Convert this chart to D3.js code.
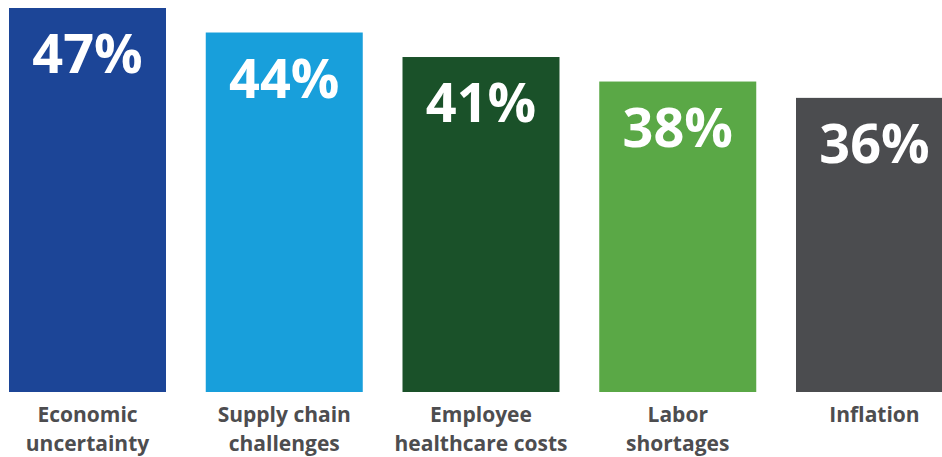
<!DOCTYPE html>
<html>
<head>
<meta charset="utf-8">
<script src="https://cdn.jsdelivr.net/npm/d3@7"></script>
<style>
html,body{margin:0;padding:0;background:#fff;overflow:hidden;}
svg{display:block;}
</style>
</head>
<body>
<svg id="chart" width="942" height="457"></svg>
<script>
const categories = ["Economic uncertainty", "Supply chain challenges", "Employee healthcare costs", "Labor shortages", "Inflation"];
const labelLines = [["Economic", "uncertainty"], ["Supply chain", "challenges"], ["Employee", "healthcare costs"], ["Labor", "shortages"], ["Inflation"]];
const values = [47, 44, 41, 38, 36];
const colors = ["#1c4597", "#189fdb", "#1a5129", "#5aa846", "#4b4c4f"];

const svg = d3.select("#chart");
const step = 196.75, bw = 157;
const xs = d3.scaleBand().domain(categories).range([9, 9 + step * 4 + bw]).paddingInner((step - bw) / step).paddingOuter(0);
const y = d3.scaleLinear().domain([0, 47]).range([392, 8]);

svg.selectAll("rect.bar").data(values).join("rect")
  .attr("class", "bar")
  .attr("x", (d, i) => xs(categories[i]))
  .attr("width", xs.bandwidth())
  .attr("y", d => y(d))
  .attr("height", d => y(0) - y(d))
  .attr("fill", (d, i) => colors[i]);

svg.selectAll("text.val").data(values).join("text")
  .attr("class", "val")
  .attr("x", (d, i) => xs(categories[i]) + xs.bandwidth() / 2)
  .attr("y", d => y(d) + 65)
  .attr("text-anchor", "middle")
  .attr("fill", "#fff")
  .style("font-family", "'Open Sans', sans-serif")
  .style("font-weight", 700)
  .style("font-size", "54px")
  .text(d => d + "%");

const lab = svg.selectAll("text.cat").data(categories).join("text")
  .attr("class", "cat")
  .attr("text-anchor", "middle")
  .attr("fill", "#4d4d4f")
  .style("font-family", "'Open Sans', sans-serif")
  .style("font-weight", 700)
  .style("font-size", "21px");
lab.each(function (d, i) {
  const t = d3.select(this);
  labelLines[i].forEach((ln, j) => {
    t.append("tspan")
      .attr("x", xs(d) + xs.bandwidth() / 2)
      .attr("y", 422 + j * 29)
      .text(ln);
  });
});
</script>
</body>
</html>
